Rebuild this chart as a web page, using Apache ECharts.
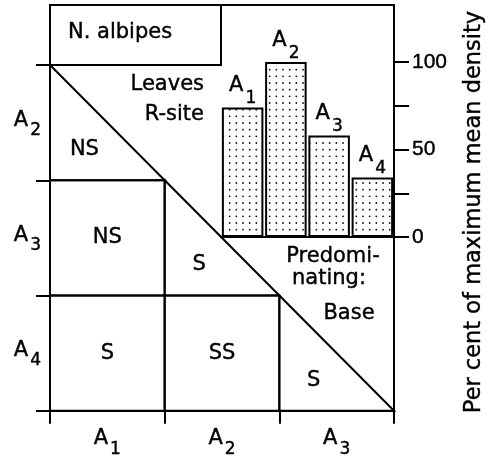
<!DOCTYPE html>
<html>
<head>
<meta charset="utf-8">
<title>N. albipes</title>
<script src="https://cdn.jsdelivr.net/npm/echarts/dist/echarts.min.js"></script>
<style>
  html, body { margin: 0; padding: 0; background: #fff; }
  #main { width: 495px; height: 458px; }
</style>
</head>
<body>
<div id="main"></div>
<script>
// matrix of significance, lower triangle
var rowNames = ['A2', 'A3', 'A4'];
var colNames = ['A1', 'A2', 'A3'];
var cellCol = [0, 0, 1, 0, 1, 2];
var cellRow = [0, 1, 1, 2, 2, 2];
var cellText = ['NS', 'NS', 'S', 'S', 'SS', 'S'];

// inset bar chart
var barNames = ['A1', 'A2', 'A3', 'A4'];
var barValues = [74, 100, 58, 34];
var densityLabels = [0, 50, 100];

var FONT = '"DejaVu Sans"';
var INK = '#000';

// dotted fill for the bars
var dots = document.createElement('canvas');
dots.width = 20;
dots.height = 20;
var ctx = dots.getContext('2d');
ctx.fillStyle = '#fff';
ctx.fillRect(0, 0, 20, 20);
ctx.fillStyle = '#111';
for (var i = 0; i < 3; i++) {
    for (var j = 0; j < 3; j++) {
        ctx.beginPath();
        ctx.arc(3 + i * 20 / 3, 3 + j * 20 / 3, 0.9, 0, Math.PI * 2);
        ctx.fill();
    }
}

function sub(name) {
    return '{a|' + name.charAt(0) + '}{s|' + name.slice(1) + '}';
}
function subRich(lift) {
    return {
        a: { fontFamily: FONT, fontSize: 21, color: INK, lineHeight: 32, verticalAlign: 'top', padding: [lift, 2, 0, 0],
             textBorderColor: INK, textBorderWidth: 0.4 },
        s: { fontFamily: FONT, fontSize: 17, color: INK, lineHeight: 32, verticalAlign: 'bottom',
             textBorderColor: INK, textBorderWidth: 0.4 }
    };
}
var line = { color: INK, width: 2 };

function txt(text, x, y, align, size) {
    return {
        type: 'text', x: x, y: y, silent: true,
        style: {
            text: text, font: (size || 21) + 'px ' + FONT, fill: INK,
            stroke: INK, lineWidth: 0.4,
            align: align, textAlign: align, verticalAlign: 'middle', textVerticalAlign: 'middle'
        }
    };
}

var myChart = echarts.init(document.getElementById('main'));
var option = {
    animation: false,
    backgroundColor: '#fff',
    grid: [
        { left: 50, top: 65, right: 101, bottom: 47 },
        { left: 221, top: 62, right: 101, bottom: 221 }
    ],
    xAxis: [{
        type: 'category', gridIndex: 0, data: colNames, boundaryGap: true,
        axisLine: { lineStyle: line },
        axisTick: { show: true, length: 13, lineStyle: line },
        axisLabel: { interval: 0, margin: 15, formatter: sub, rich: subRich(2) },
        splitLine: { show: false }
    }, {
        type: 'category', gridIndex: 1, data: barNames,
        axisLine: { lineStyle: line },
        axisTick: { show: false },
        axisLabel: { show: false }
    }],
    yAxis: [{
        type: 'category', gridIndex: 0, data: rowNames, inverse: true, boundaryGap: true,
        axisLine: { lineStyle: line },
        axisTick: { show: true, length: 14, lineStyle: line },
        axisLabel: { interval: 0, margin: 9, formatter: sub, rich: subRich(3) },
        splitLine: { show: false }
    }, {
        type: 'value', gridIndex: 1, position: 'right', min: 0, max: 100, interval: 25,
        axisLine: { show: true, lineStyle: line },
        axisTick: { show: true, length: 15, lineStyle: line },
        axisLabel: {
            margin: 18, color: INK, fontSize: 21, fontFamily: '"Liberation Sans"',
            textBorderColor: INK, textBorderWidth: 0.4,
            formatter: function (v) {
                return densityLabels.indexOf(v) >= 0 ? String(v) : '';
            }
        },
        splitLine: { show: false }
    }],
    graphic: [
        { type: 'polyline', silent: true, shape: { points: [[50, 65], [50, 5], [394, 5], [394, 411]] },
          style: { fill: null, stroke: INK, lineWidth: 2 } },
        { type: 'polyline', silent: true, shape: { points: [[50, 65], [221, 65], [221, 5]] },
          style: { fill: null, stroke: INK, lineWidth: 2 } },
        txt('N. albipes', 68, 33, 'left'),
        txt('Leaves', 204, 85, 'right'),
        txt('R-site', 204, 115, 'right'),
        txt('Predomi-', 333, 257, 'center'),
        txt('nating:', 329, 279, 'center'),
        txt('Base', 349, 314, 'center'),
        {
            type: 'text', x: 474, y: 212, rotation: Math.PI / 2, silent: true,
            style: {
                text: 'Per cent of maximum mean density', font: '22.5px ' + FONT, fill: INK,
                stroke: INK, lineWidth: 0.4,
                align: 'center', textAlign: 'center', verticalAlign: 'middle', textVerticalAlign: 'middle'
            }
        }
    ],
    series: [{
        type: 'custom',
        xAxisIndex: 0,
        yAxisIndex: 0,
        silent: true,
        data: cellCol.map(function (c, k) { return [c, cellRow[k]]; }),
        encode: { x: 0, y: 1 },
        renderItem: function (params, api) {
            var c = api.value(0), r = api.value(1);
            var mid = api.coord([c, r]);
            var size = api.size([1, 1]);
            var x0 = mid[0] - size[0] / 2, x1 = mid[0] + size[0] / 2;
            var y0 = mid[1] - size[1] / 2, y1 = mid[1] + size[1] / 2;
            var pts, tp;
            if (c === r) {
                // cell cut by the diagonal: keep the lower-left half
                pts = [[x0, y0], [x0, y1], [x1, y1]];
                tp = [x0 + 0.3 * size[0], y0 + 0.735 * size[1]];
            } else {
                pts = [[x0, y0], [x1, y0], [x1, y1], [x0, y1]];
                tp = mid;
            }
            return {
                type: 'group',
                children: [{
                    type: 'polygon',
                    shape: { points: pts },
                    style: { fill: 'none', stroke: INK, lineWidth: 2 }
                }, txt(cellText[params.dataIndex], tp[0], tp[1], 'center')]
            };
        }
    }, {
        type: 'bar',
        xAxisIndex: 1,
        yAxisIndex: 1,
        data: barValues,
        barCategoryGap: '4%',
        silent: true,
        itemStyle: {
            color: { image: dots, repeat: 'repeat' },
            borderColor: INK,
            borderWidth: 2
        },
        label: {
            show: true, position: 'top', distance: 0,
            formatter: function (p) { return sub(p.name); },
            rich: subRich(0)
        }
    }]
};
myChart.setOption(option);
</script>
</body>
</html>
